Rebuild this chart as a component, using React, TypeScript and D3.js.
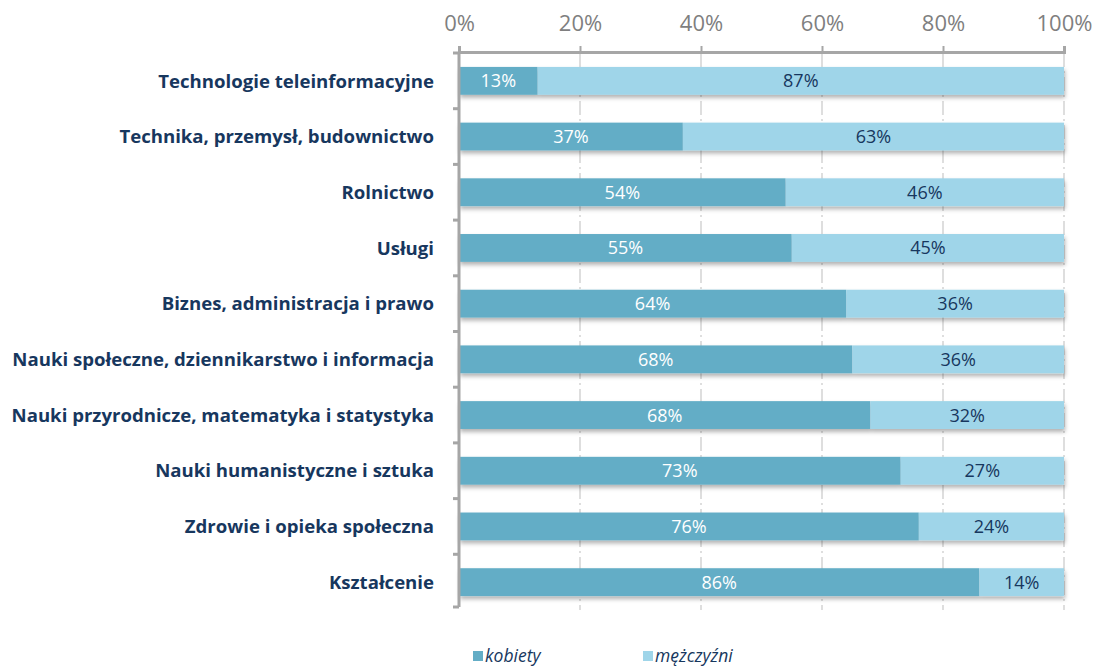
import { useEffect, useRef } from "react";
import * as d3 from "d3";

const categories = [
  "Technologie teleinformacyjne",
  "Technika, przemysł, budownictwo",
  "Rolnictwo",
  "Usługi",
  "Biznes, administracja i prawo",
  "Nauki społeczne, dziennikarstwo i informacja",
  "Nauki przyrodnicze, matematyka i statystyka",
  "Nauki humanistyczne i sztuka",
  "Zdrowie i opieka społeczna",
  "Kształcenie",
];
const kobiety = [13, 37, 54, 55, 64, 65, 68, 73, 76, 86];
const mezczyzni = [87, 63, 46, 45, 36, 35, 32, 27, 24, 14];
const kobietyLabels = ["13%", "37%", "54%", "55%", "64%", "68%", "68%", "73%", "76%", "86%"];
const mezczyzniLabels = ["87%", "63%", "46%", "45%", "36%", "36%", "32%", "27%", "24%", "14%"];
const ticks = [0, 20, 40, 60, 80, 100];
const seriesNames = ["kobiety", "mężczyźni"];

const W = 1095;
const H = 666;
const FONT = "'Open Sans', sans-serif";
const C_K = "#63adc6";
const C_M = "#9fd5e9";
const NAVY = "#17375e";

export default function App() {
  const ref = useRef<SVGSVGElement>(null);

  useEffect(() => {
    const svg = d3.select(ref.current);
    svg.selectAll("*").remove();

    const left = 459, right = 1064, top = 53, bottom = 610;

    const x = d3.scaleLinear().domain([0, 100]).range([left, right]);
    const y = d3.scaleBand<string>().domain(categories).range([top, bottom])
      .paddingInner(0.5).paddingOuter(0.25);

    const defs = svg.append("defs");
    const f = defs.append("filter").attr("id", "shadow")
      .attr("x", "-5%").attr("y", "-30%").attr("width", "110%").attr("height", "180%");
    f.append("feDropShadow").attr("dx", 1).attr("dy", 3).attr("stdDeviation", 2)
      .attr("flood-color", "#000").attr("flood-opacity", 0.3);

    // grid
    svg.append("g").selectAll("line").data(ticks.slice(1)).join("line")
      .attr("x1", d => x(d)).attr("x2", d => x(d))
      .attr("y1", top).attr("y2", bottom)
      .attr("stroke", "#bdbdbd").attr("stroke-width", 1)
      .attr("stroke-dasharray", "14,4,2,4");

    // bars
    const rows = svg.append("g").selectAll("g").data(categories).join("g")
      .attr("filter", "url(#shadow)");
    rows.append("rect")
      .attr("x", x(0)).attr("y", d => y(d)!)
      .attr("width", (_, i) => x(kobiety[i]) - x(0))
      .attr("height", y.bandwidth()).attr("fill", C_K);
    rows.append("rect")
      .attr("x", (_, i) => x(kobiety[i])).attr("y", d => y(d)!)
      .attr("width", (_, i) => x(kobiety[i] + mezczyzni[i]) - x(kobiety[i]))
      .attr("height", y.bandwidth()).attr("fill", C_M);

    // data labels
    const lab = svg.append("g").attr("font-family", FONT).attr("font-size", 18)
      .attr("text-anchor", "middle");
    lab.selectAll("text.k").data(categories).join("text").attr("class", "k")
      .attr("x", (_, i) => x(kobiety[i] / 2))
      .attr("y", d => y(d)! + y.bandwidth() / 2).attr("dy", "0.36em")
      .attr("fill", "#fff").text((_, i) => kobietyLabels[i]);
    lab.selectAll("text.m").data(categories).join("text").attr("class", "m")
      .attr("x", (_, i) => x(kobiety[i] + mezczyzni[i] / 2))
      .attr("y", d => y(d)! + y.bandwidth() / 2).attr("dy", "0.36em")
      .attr("fill", NAVY).text((_, i) => mezczyzniLabels[i]);

    // top axis
    const ax = svg.append("g").attr("transform", `translate(0,${top - 1})`)
      .call(d3.axisTop(x).tickValues(ticks).tickFormat(d => `${d}%`).tickSize(6).tickPadding(15));
    ax.select(".domain").attr("stroke", "#a6a6a6").attr("stroke-width", 3);
    ax.selectAll(".tick line").attr("stroke", "#a6a6a6").attr("stroke-width", 2);
    ax.selectAll(".tick text").attr("font-family", FONT).attr("font-size", 22)
      .attr("fill", "#7f7f7f");

    // left axis with boundary ticks
    const lg = svg.append("g");
    lg.append("line").attr("x1", left).attr("x2", left).attr("y1", top - 1).attr("y2", bottom - 3)
      .attr("stroke", "#a6a6a6").attr("stroke-width", 3);
    const gap = (y.step() - y.bandwidth()) / 2;
    const bounds = categories.map(c => y(c)! - gap);
    bounds.push(y(categories[categories.length - 1])! + y.bandwidth() + gap);
    lg.selectAll("line.t").data(bounds).join("line").attr("class", "t")
      .attr("x1", left - 6).attr("x2", left).attr("y1", d => Math.min(d, bottom - 3))
      .attr("y2", d => Math.min(d, bottom - 3))
      .attr("stroke", "#a6a6a6").attr("stroke-width", 3);

    // category labels
    svg.append("g").selectAll("text").data(categories).join("text")
      .attr("x", 434).attr("y", d => y(d)! + y.bandwidth() / 2).attr("dy", "0.36em")
      .attr("text-anchor", "end").attr("font-family", FONT).attr("font-size", 18.6)
      .attr("font-weight", "bold").attr("fill", NAVY).text(d => d);

    // legend
    const leg = svg.append("g").attr("font-family", FONT).attr("font-size", 17.5)
      .attr("font-style", "italic").attr("fill", NAVY);
    const lx = [473, 643];
    const colors = [C_K, C_M];
    seriesNames.forEach((s, i) => {
      leg.append("rect").attr("x", lx[i]).attr("y", 651).attr("width", 10).attr("height", 10)
        .attr("fill", colors[i]);
      leg.append("text").attr("x", lx[i] + 12).attr("y", 662).text(s);
    });
  }, []);

  return (
    <svg ref={ref} width={W} height={H}
      style={{ display: "block", position: "absolute", left: 0, top: 0, background: "#fff" }} />
  );
}
